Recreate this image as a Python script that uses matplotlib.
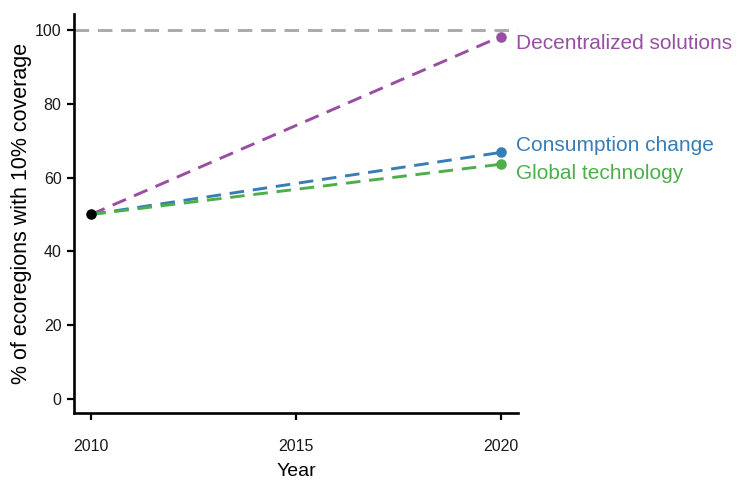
import matplotlib
matplotlib.use("Agg")
import matplotlib.pyplot as plt

plt.rcParams['font.family'] = ['Liberation Sans', 'DejaVu Sans']

years = [2010, 2020]
start_value = 50
scenarios = ['Decentralized solutions', 'Consumption change', 'Global technology']
end_values = [98.2, 66.8, 63.6]
colors = ['#984EA3', '#377EB8', '#4DAF4A']
# label offsets from the end point, in points
label_offsets = [(11, -5), (11, 5), (11, -6.5)]

dash = (0, (5, 3))

fig = plt.figure(figsize=(7.38, 4.88), dpi=100)
ax = fig.add_axes([0.1003, 0.1537, 0.6016, 0.8176])

ax.axhline(100, color='#AAAAAA', linestyle=dash, linewidth=2.1, zorder=1)

for name, end, col, off in zip(scenarios, end_values, colors, label_offsets):
    ax.plot(years, [start_value, end], color=col, linestyle=dash,
            linewidth=2.1, zorder=2)
    ax.scatter([years[1]], [end], s=58, color=col, zorder=3, linewidths=0)
    ax.annotate(name, (years[1], end), xytext=off, textcoords='offset points',
                ha='left', va='center', color=col, fontsize=15)

ax.scatter([years[0]], [start_value], s=58, color='black', zorder=4, linewidths=0)

ax.set_xlim(2009.58, 2020.42)
ax.set_ylim(-3.8, 104.3)
ax.set_xticks([2010, 2015, 2020])
ax.set_yticks([0, 20, 40, 60, 80, 100])
ax.tick_params(axis='both', length=5, width=1.6, labelsize=11.5, pad=4,
               color='black', labelcolor='#1a1a1a')
ax.tick_params(axis='x', pad=14)

for side in ['top', 'right']:
    ax.spines[side].set_visible(False)
for side in ['left', 'bottom']:
    ax.spines[side].set_linewidth(1.9)

ax.set_xlabel('Year', fontsize=14, labelpad=6)
ax.set_ylabel('% of ecoregions with 10% coverage', fontsize=15.5, labelpad=2)

fig.savefig('out.png', dpi=100)
